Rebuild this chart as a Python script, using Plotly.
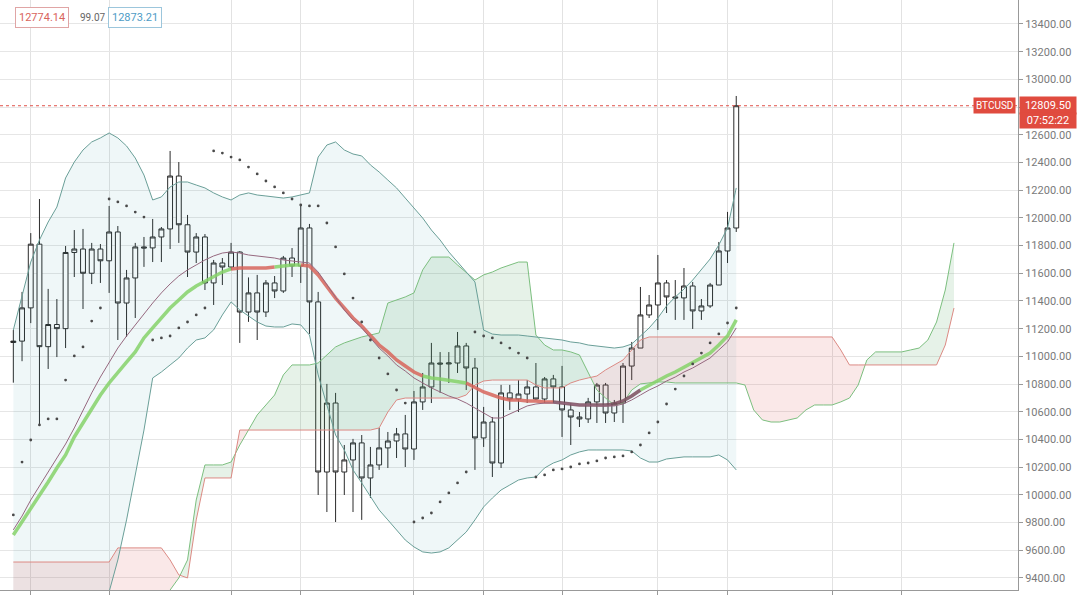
import plotly.graph_objects as go

# ---------------- data ----------------
opens = [11100, 11110, 11350, 11810, 11070, 11230, 11200, 11750, 11775, 11600,
         11775, 11690, 11898, 11385, 11566, 11790, 11783, 11862, 11920, 12302,
         11950, 11753, 11862, 11530, 11674, 11645, 11753, 11320, 11458, 11320,
         11530, 11472, 11710, 11653, 11927, 11393, 10165, 10663, 10165, 10252,
         10375, 10122, 10216, 10339, 10389, 10440, 10331, 10671, 10779, 10952,
         10945, 10952, 11075, 10916, 10411, 10526, 10230, 10736, 10692, 10728,
         10779, 10692, 10837, 10779, 10613, 10562, 10548, 10671, 10793, 10591,
         10663, 10930, 11060, 11299, 11371, 11530, 11429, 11422, 11508, 11328,
         11364, 11515, 11761, 11927]
highs = [11190, 11465, 11890, 12136, 11487, 11414, 11797, 11912, 11920, 11819,
         11811, 12086, 11941, 11624, 11819, 11862, 11992, 11934, 12483, 12403,
         12021, 11890, 11883, 11696, 11710, 11819, 11760, 11570, 11588, 11551,
         11580, 11725, 11782, 12093, 11956, 11465, 10801, 10736, 10360, 10404,
         10432, 10346, 10483, 10454, 10483, 10577, 10750, 10880, 11097, 11031,
         11031, 11176, 11097, 10988, 10635, 10562, 10794, 10794, 10829, 10829,
         10952, 10851, 10866, 10931, 10663, 10598, 10700, 10808, 10808, 10685,
         10952, 11104, 11501, 11443, 11732, 11551, 11551, 11638, 11537, 11414,
         11530, 11826, 12043, 12880]
lows = [10810, 10965, 11240, 10505, 10909, 10995, 11060, 11573, 11342, 11522,
        11530, 11458, 11118, 11140, 11277, 11646, 11681, 11681, 11775, 11819,
        11573, 11674, 11479, 11371, 11515, 11624, 11097, 11249, 11118, 11284,
        11421, 11458, 11573, 11530, 11162, 9999, 9876, 9804, 9999, 9876,
        9819, 9977, 10180, 10194, 10266, 10201, 10252, 10613, 10663, 10736,
        10808, 10880, 10757, 10180, 10346, 10129, 10194, 10613, 10598, 10663,
        10685, 10663, 10663, 10418, 10360, 10490, 10519, 10519, 10519, 10526,
        10519, 10829, 11060, 11277, 11191, 11313, 11263, 11263, 11198, 11263,
        11350, 11515, 11674, 11898]
closes = [11110, 11350, 11810, 11070, 11230, 11200, 11750, 11775, 11600, 11775,
          11690, 11898, 11385, 11566, 11790, 11783, 11862, 11920, 12302, 11950,
          11753, 11862, 11530, 11674, 11645, 11753, 11320, 11458, 11320, 11530,
          11472, 11710, 11653, 11927, 11393, 10165, 10663, 10165, 10252, 10375,
          10122, 10216, 10339, 10389, 10440, 10331, 10671, 10779, 10952, 10945,
          10952, 11075, 10916, 10411, 10526, 10230, 10736, 10692, 10728, 10779,
          10692, 10837, 10779, 10613, 10562, 10548, 10671, 10793, 10591, 10663,
          10930, 11060, 11299, 11371, 11530, 11429, 11422, 11508, 11328, 11364,
          11515, 11761, 11927, 12809.5]

bb_upper = [11190, 11443, 11681, 11840, 11970, 12078, 12288, 12403, 12490, 12548,
            12577, 12613, 12577, 12519, 12432, 12309, 12129, 12151, 12223, 12259,
            12259, 12237, 12216, 12180, 12151, 12129, 12165, 12180, 12165, 12158,
            12151, 12143, 12151, 12165, 12180, 12439, 12526, 12548, 12490, 12461,
            12447, 12382, 12331, 12273, 12216, 12143, 12071, 11999, 11912, 11840,
            11754, 11681, 11609, 11537, 11190, 11161, 11154, 11154, 11154, 11147,
            11140, 11133, 11125, 11118, 11104, 11097, 11082, 11075, 11068, 11060,
            11068, 11089, 11147, 11205, 11277, 11364, 11429, 11486, 11551, 11624,
            11703, 11804, 11927, 12216]
bb_basis = [9747, 9847, 9963, 10064, 10165, 10266, 10367, 10483, 10613, 10736,
            10851, 10959, 11060, 11147, 11227, 11306, 11385, 11458, 11523, 11580,
            11624, 11660, 11696, 11725, 11746, 11754, 11746, 11732, 11725, 11717,
            11710, 11696, 11689, 11681, 11674, 11609, 11515, 11421, 11335, 11263,
            11205, 11133, 11060, 11003, 10938, 10894, 10844, 10808, 10772, 10743,
            10714, 10692, 10663, 10627, 10591, 10555, 10555, 10584, 10613, 10642,
            10656, 10663, 10663, 10663, 10656, 10649, 10649, 10642, 10642, 10642,
            10656, 10685, 10721, 10757, 10786, 10822, 10851, 10887, 10916, 10952,
            10988, 11046, 11104, 11205]
bb_lower = [8300, 8250, 8250, 8290, 8360, 8450, 8450, 8560, 8740, 8920,
            9120, 9300, 9530, 9819, 10144, 10468, 10844, 10887, 10938, 10988,
            11060, 11118, 11133, 11191, 11299, 11393, 11335, 11291, 11248, 11219,
            11212, 11212, 11234, 11227, 11154, 10866, 10649, 10432, 10324, 10180,
            10086, 9985, 9891, 9819, 9747, 9674, 9624, 9588, 9580, 9588,
            9617, 9674, 9732, 9819, 9913, 9977, 10035, 10071, 10107, 10122,
            10129, 10194, 10230, 10252, 10288, 10310, 10324, 10324, 10324, 10324,
            10324, 10317, 10266, 10237, 10237, 10259, 10266, 10274, 10274, 10274,
            10274, 10288, 10252, 10180]

ma_fast = [9710, 9804, 9905, 9999, 10093, 10194, 10288, 10418, 10519, 10620,
           10721, 10808, 10887, 10959, 11032, 11133, 11205, 11277, 11349, 11407,
           11465, 11508, 11544, 11580, 11609, 11631, 11638, 11638, 11638, 11638,
           11645, 11653, 11660, 11660, 11653, 11588, 11501, 11421, 11349, 11277,
           11219, 11147, 11082, 11032, 10974, 10930, 10887, 10858, 10844, 10837,
           10829, 10822, 10808, 10772, 10743, 10721, 10699, 10685, 10685, 10678,
           10678, 10671, 10671, 10663, 10656, 10649, 10649, 10649, 10649, 10656,
           10678, 10714, 10757, 10793, 10829, 10858, 10887, 10923, 10952, 10988,
           11024, 11082, 11147, 11263]

sar = [9855, 10237, 10396, 10505, 10548, 10548, 10829, 11003, 11068, 11255,
       11349, 12136, 12115, 12086, 12042, 12006, 11118, 11133, 11147, 11205,
       11248, 11299, 11349, 12483, 12468, 12439, 12418, 12367, 12317, 12266,
       12223, 12180, 12136, 12093, 12086, 12086, 11963, 11790, 11595, 11421,
       11248, 11118, 10988, 10873, 10757, 10663, 9804, 9833, 9869, 9949,
       10014, 10086, 10165, 11176, 11147, 11133, 11097, 11060, 11024, 10988,
       10129, 10144, 10180, 10187, 10201, 10223, 10230, 10245, 10266, 10274,
       10281, 10310, 10360, 10447, 10526, 10656, 10764, 10858, 10945, 11024,
       11097, 11162, 11241, 11349]

span_a = [9150, 9150, 9150, 9150, 9150, 9150, 9150, 9150, 9150, 9150,
          9150, 9150, 9150, 9150, 9150, 9150, 9150, 9200, 9313, 9400,
          9530, 9963, 10216, 10216, 10216, 10237, 10360, 10468, 10577, 10649,
          10721, 10866, 10938, 10938, 10938, 10952, 11010, 11068, 11097, 11118,
          11140, 11154, 11169, 11385, 11407, 11429, 11458, 11624, 11717, 11717,
          11717, 11660, 11609, 11551, 11588, 11609, 11638, 11660, 11681, 11681,
          11154, 11082, 11046, 11046, 11032, 11010, 10887, 10757, 10699, 10649,
          10663, 10757, 10801, 10808, 10815, 10815, 10808, 10808, 10808, 10808,
          10808, 10808, 10808, 10808, 10793, 10613, 10541, 10526, 10526, 10541,
          10555, 10613, 10649, 10649, 10649, 10671, 10699, 10793, 10974, 11032,
          11032, 11032, 11032, 11046, 11060, 11118, 11248, 11479, 11819]
span_b = [9515, 9515, 9515, 9515, 9515, 9515, 9515, 9515, 9515, 9515,
          9515, 9515, 9617, 9617, 9617, 9617, 9617, 9617, 9530, 9422,
          9400, 9819, 10122, 10122, 10122, 10122, 10468, 10468, 10468, 10468,
          10468, 10468, 10468, 10468, 10468, 10468, 10468, 10468, 10468, 10468,
          10468, 10468, 10483, 10598, 10685, 10699, 10699, 10699, 10699, 10699,
          10699, 10699, 10721, 10793, 10822, 10829, 10829, 10829, 10829, 10829,
          10793, 10772, 10772, 10772, 10808, 10829, 10844, 10858, 10902, 10938,
          10974, 11046, 11118, 11140, 11140, 11140, 11140, 11140, 11140, 11140,
          11140, 11140, 11140, 11140, 11140, 11140, 11140, 11140, 11140, 11140,
          11140, 11140, 11140, 11140, 11140, 11046, 10938, 10938, 10938, 10938,
          10938, 10938, 10938, 10938, 10938, 10938, 10938, 11082, 11349]

last_price = 12809.50
bid_text, spread_text, ask_text = "12774.14", "99.07", "12873.21"
symbol_text, countdown_text = "BTCUSD", "07:52:22"
grid_ticks = [2, 11, 25, 33, 46, 54, 63, 74, 82, 94, 102]
y_ticks = list(range(9400, 13401, 200))

# ---------------- styles ----------------
ma_segments = [(0, 25, "#86d36a"), (25, 30, "#d8665c"), (30, 33, "#86d36a"),
               (33, 47, "#d8665c"), (47, 52, "#86d36a"), (52, 62, "#d8665c"),
               (62, 72, "#7b4d5e"), (72, 83, "#86d36a")]

n = len(closes)
xi = list(range(n))
xc = list(range(len(span_a)))

fig = go.Figure()

# Bollinger band fill
fig.add_trace(go.Scatter(x=xi, y=bb_lower, mode="lines", line=dict(width=0),
                         hoverinfo="skip"))
fig.add_trace(go.Scatter(x=xi, y=bb_upper, mode="lines", line=dict(width=0),
                         fill="tonexty", fillcolor="rgba(40,150,160,0.075)",
                         hoverinfo="skip"))

# Ichimoku cloud with crossings
def split_cloud(a, b):
    xs, ya, yb = [], [], []
    for i in range(len(a)):
        if i > 0:
            d0 = a[i - 1] - b[i - 1]
            d1 = a[i] - b[i]
            if d0 * d1 < 0:
                t = d0 / (d0 - d1)
                yc = a[i - 1] + t * (a[i] - a[i - 1])
                xs.append(i - 1 + t)
                ya.append(yc)
                yb.append(yc)
        xs.append(i)
        ya.append(a[i])
        yb.append(b[i])
    return xs, ya, yb

cx, ca, cb = split_cloud(span_a, span_b)
hi = [max(p, q) for p, q in zip(ca, cb)]
lo = [min(p, q) for p, q in zip(ca, cb)]
fig.add_trace(go.Scatter(x=cx, y=cb, mode="lines", line=dict(width=0), hoverinfo="skip"))
fig.add_trace(go.Scatter(x=cx, y=hi, mode="lines", line=dict(width=0), fill="tonexty",
                         fillcolor="rgba(80,160,90,0.14)", hoverinfo="skip"))
fig.add_trace(go.Scatter(x=cx, y=cb, mode="lines", line=dict(width=0), hoverinfo="skip"))
fig.add_trace(go.Scatter(x=cx, y=lo, mode="lines", line=dict(width=0), fill="tonexty",
                         fillcolor="rgba(220,80,80,0.13)", hoverinfo="skip"))

# cloud lines
fig.add_trace(go.Scatter(x=xc, y=span_a, mode="lines",
                         line=dict(color="#7cbf7f", width=1), hoverinfo="skip"))
fig.add_trace(go.Scatter(x=xc, y=span_b, mode="lines",
                         line=dict(color="#dc8a84", width=1), hoverinfo="skip"))

# Bollinger lines
fig.add_trace(go.Scatter(x=xi, y=bb_upper, mode="lines",
                         line=dict(color="#6a9f98", width=1), hoverinfo="skip"))
fig.add_trace(go.Scatter(x=xi, y=bb_lower, mode="lines",
                         line=dict(color="#6a9f98", width=1), hoverinfo="skip"))

# thick coloured moving average
for s, e, col in ma_segments:
    fig.add_trace(go.Scatter(x=xi[s:e + 1], y=ma_fast[s:e + 1], mode="lines",
                             line=dict(color=col, width=3.5), opacity=0.85,
                             hoverinfo="skip"))

# basis line
fig.add_trace(go.Scatter(x=xi, y=bb_basis, mode="lines",
                         line=dict(color="#96687f", width=1), hoverinfo="skip"))

# parabolic SAR
fig.add_trace(go.Scatter(x=xi, y=sar, mode="markers",
                         marker=dict(color="#4a4a4a", size=2.8), hoverinfo="skip"))

# candles
fig.add_trace(go.Candlestick(
    x=xi, open=opens, high=highs, low=lows, close=closes,
    increasing=dict(line=dict(color="#2b2b2b", width=1), fillcolor="white"),
    decreasing=dict(line=dict(color="#2b2b2b", width=1), fillcolor="white"),
    whiskerwidth=0, hoverinfo="skip"))

# last price line
fig.add_hline(y=last_price, line=dict(color="#e0524a", width=1, dash="dot"))

font = "Roboto, Arial, sans-serif"
ann = [
    dict(text=symbol_text, x=0.998, y=last_price, xref="paper", yref="y",
         xanchor="right", yanchor="middle", showarrow=False, bgcolor="#e04b3f",
         font=dict(color="white", size=10, family=font), borderpad=2),
    dict(text=f"{last_price:.2f}", x=1.0, y=last_price, xref="paper", yref="y",
         xanchor="left", yanchor="middle", xshift=1, showarrow=False, bgcolor="#e04b3f",
         font=dict(color="white", size=11, family=font), borderpad=2, width=52),
    dict(text=countdown_text, x=1.0, y=last_price, xref="paper", yref="y",
         xanchor="left", yanchor="middle", xshift=1, yshift=-15, showarrow=False,
         bgcolor="#e04b3f", font=dict(color="white", size=11, family=font),
         borderpad=1, width=54),
    dict(text=bid_text, x=0.0147, y=0.970, xref="paper", yref="paper",
         xanchor="left", yanchor="middle", showarrow=False, bgcolor="white",
         bordercolor="#e0a5a5", borderwidth=1, borderpad=3,
         font=dict(color="#d9645c", size=11, family=font)),
    dict(text=spread_text, x=0.0765, y=0.970, xref="paper", yref="paper",
         xanchor="left", yanchor="middle", showarrow=False,
         font=dict(color="#666", size=10, family=font)),
    dict(text=ask_text, x=0.106, y=0.970, xref="paper", yref="paper",
         xanchor="left", yanchor="middle", showarrow=False, bgcolor="white",
         bordercolor="#9cc6dc", borderwidth=1, borderpad=3,
         font=dict(color="#4e9cc6", size=11, family=font)),
]

fig.update_layout(
    width=1080, height=596,
    margin=dict(l=0, r=62, t=0, b=6, autoexpand=False),
    paper_bgcolor="white", plot_bgcolor="white",
    showlegend=False,
    boxgap=0.2,
    annotations=ann,
    xaxis=dict(range=[-1.53, 115.35], tickvals=grid_ticks, showticklabels=False,
               ticks="outside", ticklen=4, tickcolor="#999",
               showgrid=True, gridcolor="#e2e2e2", gridwidth=1,
               showline=True, linecolor="#999", zeroline=False,
               rangeslider=dict(visible=False)),
    yaxis=dict(side="right", range=[9313, 13573], tickvals=y_ticks,
               tickformat=".2f", ticks="outside", ticklen=4, tickcolor="#999",
               showline=True, linecolor="#999", gridcolor="#e6e6e6",
               tickfont=dict(family=font, size=11, color="#7a7a7a"),
               zeroline=False),
)

fig.write_html("out.html", config={"displayModeBar": False},
               post_script="document.body.style.margin='0';document.body.style.overflow='hidden';")
